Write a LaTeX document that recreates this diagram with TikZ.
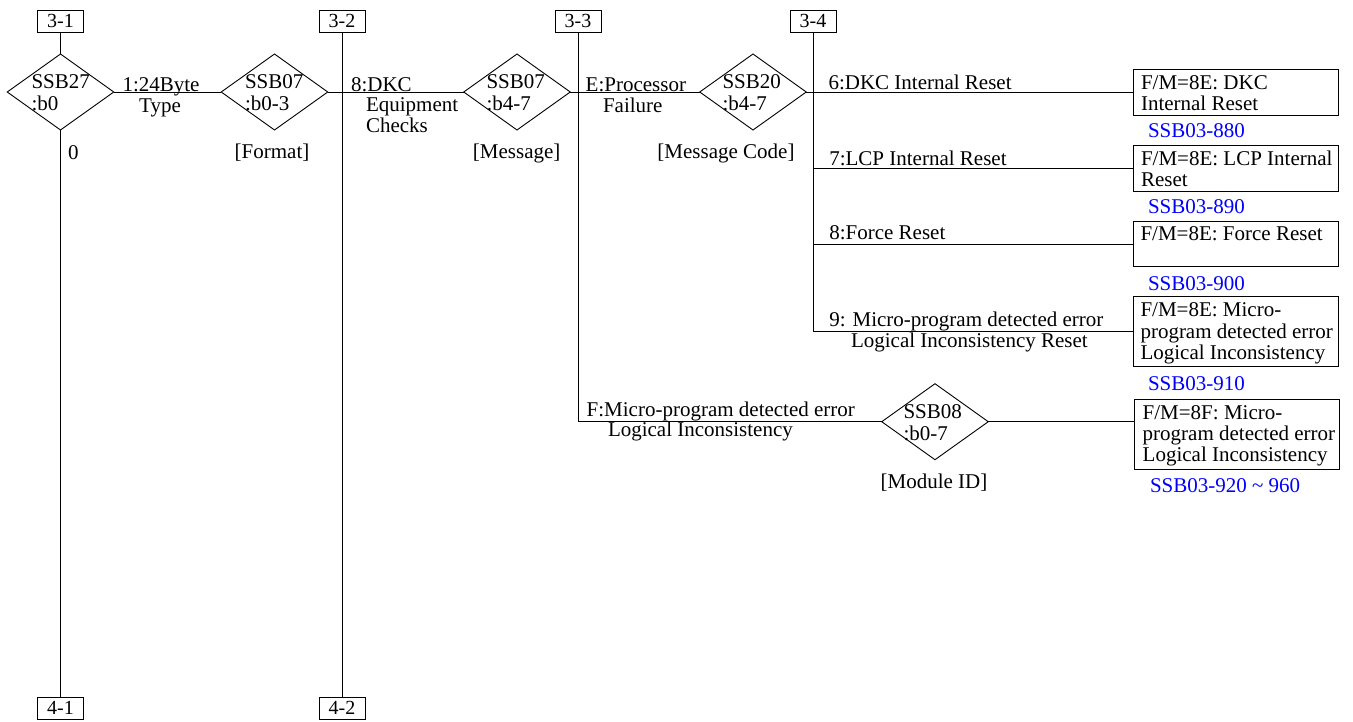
\documentclass[tikz,border=0pt]{standalone}
\usepackage{fontspec}
\setmainfont{Liberation Serif}
\usetikzlibrary{shapes.geometric}
\definecolor{refblue}{RGB}{0,0,255}
\begin{document}
\begin{tikzpicture}[x=1pt,y=-1pt,
  every node/.style={inner sep=0pt, outer sep=0pt},
  txt/.style={font=\fontsize{21}{21}\selectfont, anchor=base west},
  ctxt/.style={font=\fontsize{21}{21}\selectfont, anchor=base},
  ref/.style={txt, text=refblue},
  dia/.style={diamond, draw, line width=0.9pt, minimum width=106.5pt, minimum height=76pt},
  pagebox/.style={draw, line width=0.9pt, minimum width=46pt, minimum height=22pt, font=\fontsize{20}{20}\selectfont},
  fmbox/.style={draw, line width=0.9pt, minimum width=205pt},
  conn/.style={line width=0.9pt}]
\useasboundingbox (0,0) rectangle (1353,721);

% page connectors
\node[pagebox] (p31) at (60.5,21) {3-1};
\node[pagebox] (p32) at (342,21) {3-2};
\node[pagebox] (p33) at (578,21) {3-3};
\node[pagebox] (p34) at (813,21) {3-4};
\node[pagebox] (p41) at (60.5,708) {4-1};
\node[pagebox] (p42) at (342,708) {4-2};

% diamonds
\node[dia] (d1) at (60.5,92) {};
\node[dia] (d2) at (274.5,92) {};
\node[dia] (d3) at (517,92) {};
\node[dia] (d4) at (753,92) {};
\node[dia] (d5) at (935,421.7) {};

\node[txt] at (31.5,88.5) {SSB27};
\node[txt] at (31.5,110) {:b0};
\node[txt] at (245,88.5) {SSB07};
\node[txt] at (245,110) {:b0-3};
\node[txt] at (486.5,88.5) {SSB07};
\node[txt] at (486.5,110) {:b4-7};
\node[txt] at (722.5,88.5) {SSB20};
\node[txt] at (722.5,110) {:b4-7};
\node[txt] at (903.5,418.3) {SSB08};
\node[txt] at (903.5,440) {:b0-7};

\node[ctxt] at (272,158.5) {[Format]};
\node[ctxt] at (516.7,158.5) {[Message]};
\node[ctxt] at (726,158.5) {[Message Code]};
\node[ctxt] at (934,488.3) {[Module ID]};

% result boxes
\node[fmbox, minimum height=46pt] (b1) at (1235.5,92) {};
\node[fmbox, minimum height=46pt] (b2) at (1235.5,168) {};
\node[fmbox, minimum height=45pt] (b3) at (1235.5,244.2) {};
\node[fmbox, minimum height=70pt] (b4) at (1235.5,331.8) {};
\node[fmbox, minimum height=70pt] (b5) at (1237,434.2) {};

\node[txt] at (1141,89.3) {F/M=8E: DKC};
\node[txt] at (1141,110.7) {Internal Reset};
\node[txt] at (1141,165.3) {F/M=8E: LCP Internal};
\node[txt] at (1141,186.7) {Reset};
\node[txt] at (1140.5,240.7) {F/M=8E: Force Reset};
\node[txt] at (1140.5,316.7) {F/M=8E: Micro-};
\node[txt] at (1140.5,338) {program detected error};
\node[txt] at (1140.5,359.3) {Logical Inconsistency};
\node[txt] at (1142.7,419) {F/M=8F: Micro-};
\node[txt] at (1142.7,440.7) {program detected error};
\node[txt] at (1142.7,461.7) {Logical Inconsistency};

\node[ref] at (1148,137.3) {SSB03-880};
\node[ref] at (1148,213.3) {SSB03-890};
\node[ref] at (1148,290) {SSB03-900};
\node[ref] at (1148,390.7) {SSB03-910};
\node[ref] at (1150,492.7) {SSB03-920 \textasciitilde{} 960};

% connectors
\draw[conn] (p31.south) -- (d1.north);
\draw[conn] (d1.south) -- (p41.north);
\draw[conn] (d1.east) -- (d2.west);
\draw[conn] (p32.south) -- (p42.north);
\draw[conn] (d2.east) -- (d3.west);
\draw[conn] (d3.east) -- (d4.west);
\draw[conn] (d4.east) -- (b1.west);
\draw[conn] (p33.south) |- (d5.west);
\draw[conn] (d5.east) -- (d5.east -| b5.west);
\draw[conn] (p34.south) |- (b4.west);
\draw[conn] (p34.south |- b2.west) -- (b2.west);
\draw[conn] (p34.south |- b3.west) -- (b3.west);

% connector labels
\node[ctxt] at (161,91) {1:24Byte};
\node[ctxt] at (160,112) {Type};
\node[txt] at (68,159) {0};
\node[txt] at (351,91) {8:DKC};
\node[txt] at (366,111.5) {Equipment};
\node[txt] at (366,132) {Checks};
\node[txt] at (585.7,91) {E:Processor};
\node[txt] at (603,112) {Failure};
\node[txt] at (828.5,89) {6:DKC Internal Reset};
\node[txt] at (829.3,165.7) {7:LCP Internal Reset};
\node[txt] at (829.3,239.3) {8:Force Reset};
\node[txt] at (829.3,326.7) {9: Micro-program detected error};
\node[txt] at (851,347.3) {Logical Inconsistency Reset};
\node[txt] at (586.7,416.7) {F:Micro-program detected error};
\node[txt] at (608,436.7) {Logical Inconsistency};
\end{tikzpicture}
\end{document}
